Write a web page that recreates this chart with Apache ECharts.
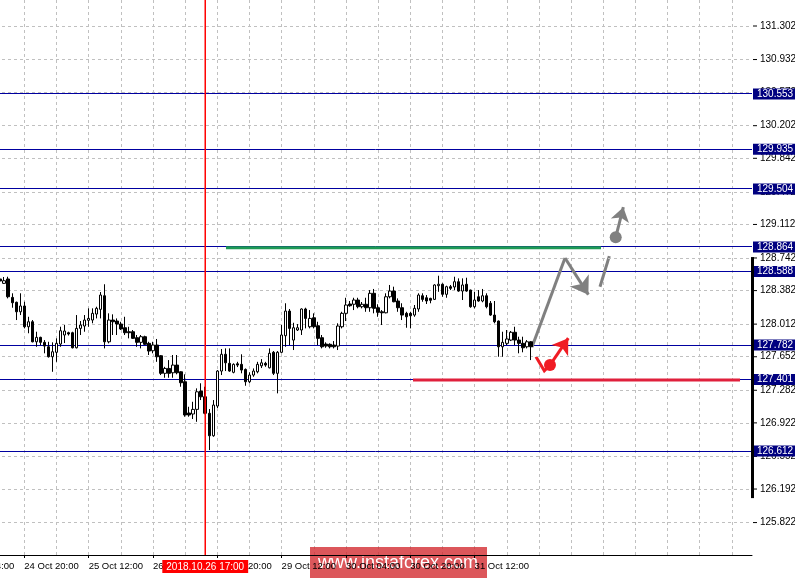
<!DOCTYPE html>
<html><head><meta charset="utf-8">
<script src="https://cdn.jsdelivr.net/npm/echarts@6/dist/echarts.min.js"></script>
<style>html,body{margin:0;padding:0;background:#fff}#c{width:795px;height:578px}</style>
</head><body><div id="c"></div>
<script>
// ---------- data ----------
const startHourUTC = Date.UTC(2018, 9, 24, 4);   // first (off-screen) category: 24 Oct 04:00
const categoryCount = 198;
const firstBarIndex = 10;                          // 24 Oct 14:00
const monthNames = ['Jan','Feb','Mar','Apr','May','Jun','Jul','Aug','Sep','Oct','Nov','Dec'];

// H1 candles  [open, close, low, high]
const ohlc = [
[128.508,128.486,128.442,128.563],[128.460,128.489,128.453,128.530],[128.508,128.312,128.294,128.533],[128.305,128.246,128.191,128.350],
[128.251,128.146,128.055,128.258],[128.146,128.210,128.110,128.350],[128.210,127.981,127.963,128.257],[127.981,128.036,127.909,128.091],
[128.036,127.815,127.809,128.055],[127.815,127.864,127.760,127.926],[127.864,127.809,127.779,127.871],[127.809,127.768,127.688,127.834],
[127.760,127.650,127.641,127.815],[127.650,127.705,127.484,127.809],[127.699,127.798,127.594,127.853],[127.790,127.937,127.760,127.981],
[127.890,127.934,127.801,128.000],[127.915,127.901,127.884,127.926],[127.915,127.749,127.742,127.926],[127.749,127.963,127.742,128.110],
[127.963,128.000,127.890,128.044],[127.989,128.055,127.926,128.110],[128.052,128.073,127.981,128.184],[128.055,128.129,128.019,128.184],
[128.121,128.184,128.073,128.202],[128.173,128.331,128.073,128.364],[128.323,127.815,127.742,128.450],[127.815,128.055,127.798,128.129],
[128.055,128.036,127.890,128.118],[128.044,128.011,127.890,128.073],[128.011,127.956,127.945,128.036],[127.970,127.915,127.890,128.091],
[127.926,127.915,127.853,127.981],[127.926,127.853,127.846,127.945],[127.860,127.809,127.760,127.890],[127.809,127.871,127.742,127.890],
[127.871,127.787,127.779,127.882],[127.798,127.713,127.669,127.815],[127.716,127.779,127.688,127.815],[127.779,127.650,127.594,127.846],
[127.661,127.467,127.448,127.669],[127.467,127.521,127.418,127.539],[127.521,127.467,127.418,127.613],[127.473,127.558,127.418,127.669],
[127.558,127.473,127.456,127.669],[127.484,127.363,127.319,127.490],[127.374,127.007,126.988,127.456],[127.029,127.007,126.988,127.098],
[127.018,127.069,126.963,127.153],[127.069,127.263,126.932,127.301],[127.271,127.208,127.172,127.357],[127.208,127.026,127.015,127.319],
[127.026,126.778,126.620,127.073],[126.778,127.117,126.767,127.172],[127.106,127.492,127.084,127.503],[127.492,127.677,127.448,127.735],
[127.677,127.583,127.492,127.742],[127.577,127.492,127.484,127.742],[127.478,127.566,127.467,127.577],[127.572,127.558,127.536,127.594],
[127.566,127.503,127.467,127.677],[127.510,127.374,127.330,127.521],[127.374,127.448,127.357,127.478],[127.448,127.492,127.429,127.521],
[127.484,127.566,127.467,127.594],[127.550,127.583,127.525,127.624],[127.577,127.558,127.539,127.594],[127.528,127.688,127.521,127.742],
[127.699,127.467,127.448,127.713],[127.467,127.699,127.246,127.713],[127.699,127.890,127.688,128.000],[127.882,128.154,127.760,128.240],
[128.154,127.963,127.779,128.177],[127.834,127.970,127.724,128.025],[127.945,127.970,127.934,128.011],[127.945,128.177,127.890,128.184],
[128.177,128.073,127.963,128.191],[127.981,128.073,127.963,128.165],[128.080,127.981,127.963,128.129],[127.992,127.853,127.779,128.036],
[127.860,127.760,127.742,127.890],[127.790,127.768,127.749,127.809],[127.787,127.760,127.742,127.798],[127.779,127.760,127.742,127.823],
[127.768,127.989,127.724,128.019],[127.981,128.129,127.963,128.146],[128.129,128.221,128.044,128.301],[128.232,128.213,128.202,128.265],
[128.229,128.276,128.165,128.301],[128.276,128.202,128.184,128.301],[128.202,128.229,128.184,128.254],[128.229,128.191,128.146,128.301],
[128.191,128.350,128.146,128.386],[128.350,128.184,128.129,128.398],[128.191,128.140,128.091,128.229],[128.146,128.135,128.000,128.165],
[128.135,128.312,128.129,128.350],[128.312,128.375,128.294,128.442],[128.375,128.257,128.251,128.423],[128.265,128.191,128.146,128.294],
[128.191,128.110,128.055,128.240],[128.129,128.091,127.970,128.146],[128.129,128.102,127.963,128.146],[128.110,128.184,128.091,128.221],
[128.177,128.331,128.146,128.350],[128.323,128.283,128.257,128.350],[128.301,128.265,128.232,128.331],[128.294,128.273,128.240,128.301],
[128.283,128.442,128.276,128.450],[128.434,128.450,128.367,128.544],[128.450,128.339,128.312,128.460],[128.339,128.423,128.301,128.434],
[128.423,128.405,128.386,128.442],[128.420,128.478,128.386,128.533],[128.478,128.375,128.367,128.515],[128.375,128.442,128.276,128.515],
[128.450,128.375,128.367,128.522],[128.386,128.202,128.191,128.390],[128.202,128.276,128.184,128.367],[128.312,128.265,128.257,128.386],
[128.265,128.323,128.251,128.398],[128.323,128.202,128.184,128.350],[128.240,128.110,128.102,128.265],[128.110,128.036,128.019,128.265],
[128.044,127.760,127.650,128.050],[127.760,127.809,127.650,127.926],[127.798,127.846,127.779,127.945],[127.834,127.920,127.823,127.934],
[127.920,127.834,127.779,127.981],[127.834,127.798,127.688,127.871],[127.798,127.749,127.699,127.871],[127.760,127.815,127.742,127.834],
[127.815,127.760,127.613,127.823]
];

const yMin = 125.462, yMax = 131.587;
const tickLabels = ['125.462','125.822','126.192','126.552','126.922','127.282','127.652','128.012','128.382',
                    '128.742','129.112','129.472','129.842','130.202','130.572','130.932','131.302'];
const levelLabels = ['130.553','129.935','129.504','128.864','128.588','127.782','127.401','126.612'];
const cursorBar = '26 Oct 17:00';
const cursorLabel = '2018.10.26 17:00';
const scaleBar = [128.750, 126.090];

// annotations: [barPosition, price]
const greenLine = [[66.16, 128.853], [159.44, 128.853]];
const redLine = [[112.68, 127.392], [194.02, 127.392]];
const grayUp = [[142.28, 127.757], [150.49, 128.739]];
const grayDown = [[150.49, 128.739], [156.3, 128.335]];
const graySegment = [[159.19, 128.423], [161.51, 128.761]];
const grayDot = [163.10, 128.968];
const grayArrow = [[163.10, 128.968], [165.0, 129.30]];
const redCheck = [[143.27, 127.650], [145.34, 127.495], [146.75, 127.558]];
const redDot = [146.75, 127.558];
const redArrow = [[146.75, 127.558], [151.3, 127.855]];

// ---------- build ----------
const categories = [];
for (let t = startHourUTC; categories.length < categoryCount; t += 3600000) {
  const d = new Date(t);
  const wd = d.getUTCDay();
  if (wd === 0 || wd === 6) continue;
  const hh = String(d.getUTCHours()).padStart(2, '0');
  categories.push(d.getUTCDate() + ' ' + monthNames[d.getUTCMonth()] + ' ' + hh + ':00');
}
const lastBarIndex = firstBarIndex + ohlc.length - 1;
const candleData = categories.map((c, k) => (k >= firstBarIndex && k <= lastBarIndex) ? ohlc[k - firstBarIndex] : '-');
const labelEvery = (k) => k % 16 === 0 && k <= lastBarIndex;
const cursorIndex = categories.indexOf(cursorBar);

const FONT = 'Liberation Sans, Arial, sans-serif';
const NAVY = '#000080';
const GRAY = '#808080';
const RED = '#f01c24';
const CLEAR = 'rgba(0,0,0,0)';

const levelLines = levelLabels.map(s => ({coords: [[0, parseFloat(s)], [categoryCount - 1, parseFloat(s)]],
                                          lineStyle: {color: '#0000a0', width: 1, opacity: 1}}));

const chart = echarts.init(document.getElementById('c'), null, {renderer: 'canvas'});
chart.setOption({
  animation: false,
  backgroundColor: '#fff',
  textStyle: {fontFamily: FONT},
  grid: {left: -40, right: 43, top: 0, bottom: 23, containLabel: false, outerBoundsMode: 'none'},
  xAxis: [{
    type: 'category', data: categories, boundaryGap: false,
    axisLine: {show: true, lineStyle: {color: '#000', width: 1}},
    axisTick: {show: true, interval: (k) => labelEvery(k), length: 3, lineStyle: {color: '#000'}},
    axisLabel: {interval: (k) => labelEvery(k), align: 'left', color: '#000', fontSize: 9.5, margin: 6, fontFamily: FONT, hideOverlap: false},
    splitLine: {show: true, interval: (k) => k % 8 === 0, lineStyle: {color: '#c0c0c0', type: [3, 3], width: 1}}
  }, {
    type: 'value', min: 0, max: categoryCount - 1, show: false
  }],
  yAxis: [{
    type: 'value', min: yMin, max: yMax, position: 'right', scale: true,
    axisLine: {show: true, lineStyle: {color: '#000', width: 1}},
    axisTick: {show: false}, axisLabel: {show: false}, splitLine: {show: false}
  }],
  series: [
    {
      name: 'grid', type: 'line', data: [], z: 1, clip: false, silent: true,
      markLine: {
        silent: true, symbol: ['none', 'none'], animation: false,
        lineStyle: {color: '#c0c0c0', type: [3, 3], width: 1},
        label: {
          show: true, position: 'end', distance: 1, color: '#000', fontSize: 10, fontFamily: FONT,
          formatter: (p) => '{t|}{v|' + p.name + '}',
          rich: {t: {width: 4, height: 1, backgroundColor: '#000'}, v: {padding: [0, 0, 0, 3], fontSize: 10, color: '#000', fontFamily: FONT}}
        },
        data: tickLabels.map(s => ({name: s, yAxis: parseFloat(s), lineStyle: {color: '#c0c0c0', type: [3, 3], width: 1}}))
      }
    },
    {
      name: 'levelLines', type: 'lines', coordinateSystem: 'cartesian2d', xAxisIndex: 1, polyline: false, z: 3, silent: true,
      symbol: ['none', 'none'], lineStyle: {opacity: 1, curveness: 0}, data: levelLines
    },
    {
      name: 'levels', type: 'line', data: [], z: 4, clip: false, silent: true,
      markLine: {
        silent: true, symbol: ['none', 'none'], animation: false,
        lineStyle: {color: CLEAR, width: 1, type: 'solid'},
        label: {
          show: true, position: 'end', distance: 1, color: '#fff', fontSize: 10, fontFamily: FONT,
          backgroundColor: NAVY, padding: [1, 4, 0, 4], formatter: (p) => p.name
        },
        data: levelLabels.map(s => ({name: s, yAxis: parseFloat(s), lineStyle: {color: CLEAR, width: 1}}))
      }
    },
    {
      name: 'cursor', type: 'line', data: [], z: 6, clip: false, silent: true,
      markLine: {
        silent: true, symbol: ['none', 'none'], animation: false,
        lineStyle: {color: CLEAR, width: 1, type: 'solid'},
        label: {
          show: true, position: 'start', distance: 5, color: '#fff', fontSize: 10, fontFamily: FONT,
          backgroundColor: '#ff0000', padding: [2, 4, 1, 4], formatter: () => cursorLabel
        },
        data: [{xAxis: cursorBar, lineStyle: {color: CLEAR, width: 1}}]
      }
    },
    {
      name: 'EURJPY', type: 'candlestick', data: candleData, z: 5, barWidth: 3,
      itemStyle: {color: '#fff', color0: '#000', borderColor: '#000', borderColor0: '#000', borderWidth: 1}
    },
    {
      name: 'cursorLine', type: 'lines', coordinateSystem: 'cartesian2d', xAxisIndex: 1, polyline: true, z: 9, silent: true,
      symbol: ['none', 'none'], lineStyle: {opacity: 1, curveness: 0, color: '#ff0000', width: 1.5},
      data: [{coords: [[cursorIndex, yMin], [cursorIndex, yMax]], lineStyle: {color: '#ff0000', width: 1.5, opacity: 1}}]
    },
    {
      name: 'zones', type: 'lines', coordinateSystem: 'cartesian2d', xAxisIndex: 1, polyline: true, z: 4, silent: true,
      symbol: ['none', 'none'],
      lineStyle: {opacity: 1, curveness: 0},
      data: [
        {coords: greenLine, lineStyle: {color: '#1e9a55', width: 3, opacity: 1}},
        {coords: redLine, lineStyle: {color: '#e0203c', width: 3, opacity: 1}},
        {coords: redCheck, lineStyle: {color: RED, width: 3, opacity: 1}},
        {coords: graySegment, lineStyle: {color: GRAY, width: 3, opacity: 1}},
        {coords: grayUp, lineStyle: {color: GRAY, width: 3, opacity: 1}}
      ]
    },
    {
      name: 'arrows', type: 'lines', coordinateSystem: 'cartesian2d', xAxisIndex: 1, polyline: false, z: 7, silent: true,
      symbol: ['none', 'arrow'], symbolSize: 16,
      lineStyle: {opacity: 1, curveness: 0},
      data: [
        {coords: grayDown, lineStyle: {color: GRAY, width: 3, opacity: 1}, symbolSize: 17},
        {coords: grayArrow, lineStyle: {color: GRAY, width: 3, opacity: 1}, symbolSize: 14},
        {coords: redArrow, lineStyle: {color: RED, width: 3, opacity: 1}, symbolSize: 15}
      ]
    },
    {
      name: 'dots', type: 'scatter', xAxisIndex: 1, z: 8, silent: true, symbolSize: 12,
      data: [
        {value: grayDot, itemStyle: {color: GRAY, opacity: 1}},
        {value: redDot, itemStyle: {color: RED, opacity: 1}}
      ]
    }
  ]
});

// price-scale bar next to the axis and watermark
const yTop = chart.convertToPixel({yAxisIndex: 0}, scaleBar[0]);
const yBot = chart.convertToPixel({yAxisIndex: 0}, scaleBar[1]);
chart.setOption({
  graphic: [
    {type: 'rect', left: 751, top: yTop, shape: {width: 3, height: yBot - yTop}, style: {fill: '#000'}, z: 10},
    {type: 'group', left: 310, top: 547, z: 20, children: [
      {type: 'rect', shape: {x: 0, y: 0, width: 177, height: 31}, style: {fill: 'rgba(210,40,45,0.78)'}},
      {type: 'text', x: 88, y: 16, style: {text: 'www.instaforex.com', fill: '#fff', font: '18px ' + FONT, align: 'center', verticalAlign: 'middle'}}
    ]}
  ]
});
</script>
</body></html>
